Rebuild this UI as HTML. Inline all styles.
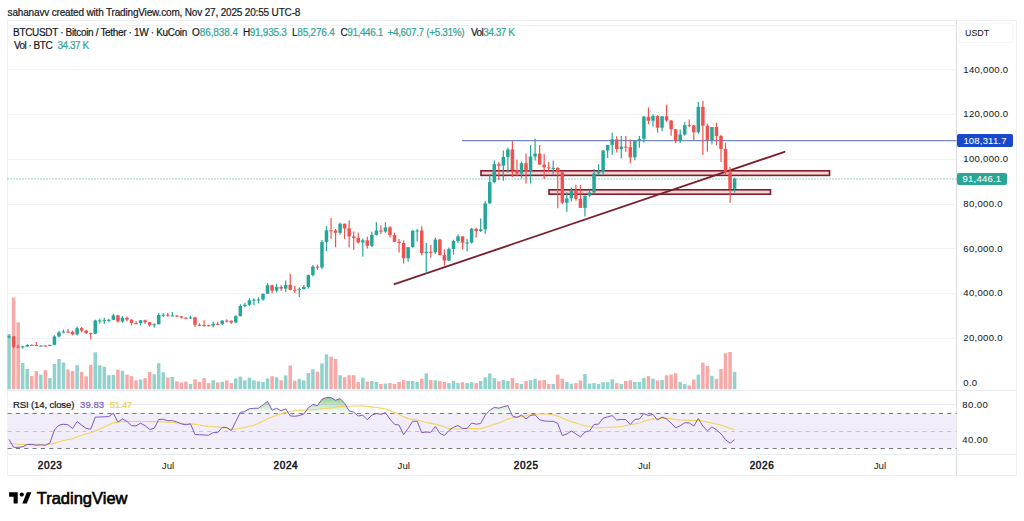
<!DOCTYPE html>
<html><head><meta charset="utf-8">
<style>
html,body{margin:0;padding:0;background:#fff;}
body{width:1024px;height:521px;position:relative;overflow:hidden;font-family:"Liberation Sans",sans-serif;color:#131722;}
.t{position:absolute;white-space:nowrap;line-height:1;-webkit-text-stroke:0.2px currentColor;}
.hdr{left:8px;top:8px;font-size:10.4px;color:#1e222d;}
.lg{font-size:10px;color:#131722;}
.gv{color:#2ea597;}
.ax{font-size:9.5px;color:#131722;-webkit-text-stroke:0.05px currentColor;}
.tm{font-size:9.6px;color:#131722;top:461px;}
.b{font-weight:bold;}
#frame{position:absolute;left:7px;top:20px;width:1008px;height:454px;border:1px solid #f0f1f4;box-sizing:content-box;}
svg{position:absolute;left:0;top:0;}
</style></head><body>
<div class="t" style="left:7.6px;top:8.2px;font-size:10px;letter-spacing:-0.17px;color:#131722;">sahanavv created with TradingView.com, Nov 27, 2025 20:55 UTC-8</div>
<div id="frame"></div>
<svg width="1024" height="521" viewBox="0 0 1024 521">
<line x1="956.5" y1="21" x2="956.5" y2="475" stroke="#dcdee3" stroke-width="1"/>
<line x1="7.5" y1="454.5" x2="1016" y2="454.5" stroke="#e9ecf2" stroke-width="1"/>
<line x1="7.5" y1="390.5" x2="1016" y2="390.5" stroke="#e9ecf2" stroke-width="1"/>
<line x1="7.5" y1="25.5" x2="956.5" y2="25.5" stroke="#f1f2f5" stroke-width="1"/>
<line x1="7.5" y1="69.5" x2="956.5" y2="69.5" stroke="#f1f2f5" stroke-width="1"/>
<line x1="7.5" y1="114.5" x2="956.5" y2="114.5" stroke="#f1f2f5" stroke-width="1"/>
<line x1="7.5" y1="159.5" x2="956.5" y2="159.5" stroke="#f1f2f5" stroke-width="1"/>
<line x1="7.5" y1="204.5" x2="956.5" y2="204.5" stroke="#f1f2f5" stroke-width="1"/>
<line x1="7.5" y1="248.5" x2="956.5" y2="248.5" stroke="#f1f2f5" stroke-width="1"/>
<line x1="7.5" y1="293.5" x2="956.5" y2="293.5" stroke="#f1f2f5" stroke-width="1"/>
<line x1="7.5" y1="338.5" x2="956.5" y2="338.5" stroke="#f1f2f5" stroke-width="1"/>
<rect x="7.34" y="334.00" width="3.5" height="55.20" fill="#92d2cc"/>
<rect x="11.87" y="297.50" width="3.5" height="91.70" fill="#f7a9a7"/>
<rect x="16.41" y="322.30" width="3.5" height="66.90" fill="#f7a9a7"/>
<rect x="20.94" y="363.00" width="3.5" height="26.20" fill="#92d2cc"/>
<rect x="25.48" y="369.00" width="3.5" height="20.20" fill="#92d2cc"/>
<rect x="30.01" y="376.10" width="3.5" height="13.10" fill="#f7a9a7"/>
<rect x="34.55" y="371.00" width="3.5" height="18.20" fill="#f7a9a7"/>
<rect x="39.08" y="374.60" width="3.5" height="14.60" fill="#92d2cc"/>
<rect x="43.62" y="370.20" width="3.5" height="19.00" fill="#f7a9a7"/>
<rect x="48.15" y="378.00" width="3.5" height="11.20" fill="#92d2cc"/>
<rect x="52.68" y="364.00" width="3.5" height="25.20" fill="#92d2cc"/>
<rect x="57.22" y="359.00" width="3.5" height="30.20" fill="#92d2cc"/>
<rect x="61.75" y="362.50" width="3.5" height="26.70" fill="#92d2cc"/>
<rect x="66.29" y="369.50" width="3.5" height="19.70" fill="#f7a9a7"/>
<rect x="70.82" y="371.00" width="3.5" height="18.20" fill="#f7a9a7"/>
<rect x="75.36" y="365.20" width="3.5" height="24.00" fill="#92d2cc"/>
<rect x="79.89" y="371.90" width="3.5" height="17.30" fill="#f7a9a7"/>
<rect x="84.43" y="376.30" width="3.5" height="12.90" fill="#f7a9a7"/>
<rect x="88.96" y="364.80" width="3.5" height="24.40" fill="#f7a9a7"/>
<rect x="93.50" y="352.30" width="3.5" height="36.90" fill="#92d2cc"/>
<rect x="98.03" y="365.20" width="3.5" height="24.00" fill="#92d2cc"/>
<rect x="102.56" y="366.70" width="3.5" height="22.50" fill="#92d2cc"/>
<rect x="107.10" y="375.20" width="3.5" height="14.00" fill="#92d2cc"/>
<rect x="111.63" y="374.90" width="3.5" height="14.30" fill="#92d2cc"/>
<rect x="116.17" y="369.50" width="3.5" height="19.70" fill="#f7a9a7"/>
<rect x="120.70" y="370.80" width="3.5" height="18.40" fill="#92d2cc"/>
<rect x="125.24" y="374.60" width="3.5" height="14.60" fill="#f7a9a7"/>
<rect x="129.77" y="376.10" width="3.5" height="13.10" fill="#f7a9a7"/>
<rect x="134.31" y="380.40" width="3.5" height="8.80" fill="#f7a9a7"/>
<rect x="138.84" y="379.60" width="3.5" height="9.60" fill="#92d2cc"/>
<rect x="143.37" y="378.10" width="3.5" height="11.10" fill="#f7a9a7"/>
<rect x="147.91" y="371.90" width="3.5" height="17.30" fill="#f7a9a7"/>
<rect x="152.44" y="374.20" width="3.5" height="15.00" fill="#92d2cc"/>
<rect x="156.98" y="363.20" width="3.5" height="26.00" fill="#92d2cc"/>
<rect x="161.51" y="372.20" width="3.5" height="17.00" fill="#92d2cc"/>
<rect x="166.05" y="377.50" width="3.5" height="11.70" fill="#f7a9a7"/>
<rect x="170.58" y="377.00" width="3.5" height="12.20" fill="#92d2cc"/>
<rect x="175.12" y="381.30" width="3.5" height="7.90" fill="#f7a9a7"/>
<rect x="179.65" y="382.40" width="3.5" height="6.80" fill="#f7a9a7"/>
<rect x="184.19" y="381.60" width="3.5" height="7.60" fill="#f7a9a7"/>
<rect x="188.72" y="384.00" width="3.5" height="5.20" fill="#92d2cc"/>
<rect x="193.25" y="379.30" width="3.5" height="9.90" fill="#f7a9a7"/>
<rect x="197.79" y="382.00" width="3.5" height="7.20" fill="#f7a9a7"/>
<rect x="202.32" y="378.10" width="3.5" height="11.10" fill="#f7a9a7"/>
<rect x="206.86" y="383.10" width="3.5" height="6.10" fill="#f7a9a7"/>
<rect x="211.39" y="380.20" width="3.5" height="9.00" fill="#92d2cc"/>
<rect x="215.93" y="382.40" width="3.5" height="6.80" fill="#f7a9a7"/>
<rect x="220.46" y="381.80" width="3.5" height="7.40" fill="#92d2cc"/>
<rect x="225.00" y="380.40" width="3.5" height="8.80" fill="#f7a9a7"/>
<rect x="229.53" y="383.10" width="3.5" height="6.10" fill="#f7a9a7"/>
<rect x="234.06" y="378.40" width="3.5" height="10.80" fill="#92d2cc"/>
<rect x="238.60" y="376.60" width="3.5" height="12.60" fill="#92d2cc"/>
<rect x="243.13" y="380.40" width="3.5" height="8.80" fill="#92d2cc"/>
<rect x="247.67" y="377.70" width="3.5" height="11.50" fill="#92d2cc"/>
<rect x="252.20" y="380.40" width="3.5" height="8.80" fill="#92d2cc"/>
<rect x="256.74" y="381.30" width="3.5" height="7.90" fill="#92d2cc"/>
<rect x="261.27" y="382.00" width="3.5" height="7.20" fill="#92d2cc"/>
<rect x="265.81" y="378.40" width="3.5" height="10.80" fill="#92d2cc"/>
<rect x="270.34" y="376.30" width="3.5" height="12.90" fill="#f7a9a7"/>
<rect x="274.88" y="377.30" width="3.5" height="11.90" fill="#92d2cc"/>
<rect x="279.41" y="380.20" width="3.5" height="9.00" fill="#f7a9a7"/>
<rect x="283.94" y="375.40" width="3.5" height="13.80" fill="#92d2cc"/>
<rect x="288.48" y="365.50" width="3.5" height="23.70" fill="#f7a9a7"/>
<rect x="293.01" y="380.80" width="3.5" height="8.40" fill="#f7a9a7"/>
<rect x="297.55" y="378.90" width="3.5" height="10.30" fill="#92d2cc"/>
<rect x="302.08" y="380.40" width="3.5" height="8.80" fill="#92d2cc"/>
<rect x="306.62" y="373.00" width="3.5" height="16.20" fill="#92d2cc"/>
<rect x="311.15" y="369.30" width="3.5" height="19.90" fill="#92d2cc"/>
<rect x="315.69" y="371.60" width="3.5" height="17.60" fill="#f7a9a7"/>
<rect x="320.22" y="363.40" width="3.5" height="25.80" fill="#92d2cc"/>
<rect x="324.75" y="354.30" width="3.5" height="34.90" fill="#92d2cc"/>
<rect x="329.29" y="356.60" width="3.5" height="32.60" fill="#f7a9a7"/>
<rect x="333.82" y="359.00" width="3.5" height="30.20" fill="#f7a9a7"/>
<rect x="338.36" y="375.20" width="3.5" height="14.00" fill="#92d2cc"/>
<rect x="342.89" y="377.30" width="3.5" height="11.90" fill="#f7a9a7"/>
<rect x="347.43" y="375.20" width="3.5" height="14.00" fill="#f7a9a7"/>
<rect x="351.96" y="375.20" width="3.5" height="14.00" fill="#f7a9a7"/>
<rect x="356.50" y="382.00" width="3.5" height="7.20" fill="#f7a9a7"/>
<rect x="361.03" y="377.70" width="3.5" height="11.50" fill="#92d2cc"/>
<rect x="365.56" y="381.60" width="3.5" height="7.60" fill="#f7a9a7"/>
<rect x="370.10" y="381.00" width="3.5" height="8.20" fill="#92d2cc"/>
<rect x="374.63" y="382.00" width="3.5" height="7.20" fill="#92d2cc"/>
<rect x="379.17" y="384.00" width="3.5" height="5.20" fill="#f7a9a7"/>
<rect x="383.70" y="383.60" width="3.5" height="5.60" fill="#92d2cc"/>
<rect x="388.24" y="383.10" width="3.5" height="6.10" fill="#f7a9a7"/>
<rect x="392.77" y="384.00" width="3.5" height="5.20" fill="#f7a9a7"/>
<rect x="397.31" y="382.00" width="3.5" height="7.20" fill="#f7a9a7"/>
<rect x="401.84" y="380.00" width="3.5" height="9.20" fill="#f7a9a7"/>
<rect x="406.38" y="381.00" width="3.5" height="8.20" fill="#92d2cc"/>
<rect x="410.91" y="381.00" width="3.5" height="8.20" fill="#92d2cc"/>
<rect x="415.44" y="382.00" width="3.5" height="7.20" fill="#92d2cc"/>
<rect x="419.98" y="378.70" width="3.5" height="10.50" fill="#f7a9a7"/>
<rect x="424.51" y="373.40" width="3.5" height="15.80" fill="#92d2cc"/>
<rect x="429.05" y="380.00" width="3.5" height="9.20" fill="#f7a9a7"/>
<rect x="433.58" y="380.40" width="3.5" height="8.80" fill="#92d2cc"/>
<rect x="438.12" y="381.00" width="3.5" height="8.20" fill="#f7a9a7"/>
<rect x="442.65" y="382.00" width="3.5" height="7.20" fill="#f7a9a7"/>
<rect x="447.19" y="383.10" width="3.5" height="6.10" fill="#92d2cc"/>
<rect x="451.72" y="381.00" width="3.5" height="8.20" fill="#92d2cc"/>
<rect x="456.25" y="383.10" width="3.5" height="6.10" fill="#92d2cc"/>
<rect x="460.79" y="382.20" width="3.5" height="7.00" fill="#f7a9a7"/>
<rect x="465.32" y="383.10" width="3.5" height="6.10" fill="#92d2cc"/>
<rect x="469.86" y="382.20" width="3.5" height="7.00" fill="#92d2cc"/>
<rect x="474.39" y="383.10" width="3.5" height="6.10" fill="#f7a9a7"/>
<rect x="478.93" y="381.00" width="3.5" height="8.20" fill="#92d2cc"/>
<rect x="483.46" y="377.30" width="3.5" height="11.90" fill="#92d2cc"/>
<rect x="488.00" y="373.40" width="3.5" height="15.80" fill="#92d2cc"/>
<rect x="492.53" y="378.10" width="3.5" height="11.10" fill="#92d2cc"/>
<rect x="497.07" y="381.30" width="3.5" height="7.90" fill="#f7a9a7"/>
<rect x="501.60" y="380.00" width="3.5" height="9.20" fill="#92d2cc"/>
<rect x="506.13" y="381.00" width="3.5" height="8.20" fill="#92d2cc"/>
<rect x="510.67" y="378.10" width="3.5" height="11.10" fill="#f7a9a7"/>
<rect x="515.20" y="383.10" width="3.5" height="6.10" fill="#f7a9a7"/>
<rect x="519.74" y="384.00" width="3.5" height="5.20" fill="#92d2cc"/>
<rect x="524.27" y="381.00" width="3.5" height="8.20" fill="#f7a9a7"/>
<rect x="528.81" y="380.00" width="3.5" height="9.20" fill="#92d2cc"/>
<rect x="533.34" y="378.70" width="3.5" height="10.50" fill="#92d2cc"/>
<rect x="537.88" y="380.40" width="3.5" height="8.80" fill="#f7a9a7"/>
<rect x="542.41" y="380.00" width="3.5" height="9.20" fill="#f7a9a7"/>
<rect x="546.95" y="384.00" width="3.5" height="5.20" fill="#f7a9a7"/>
<rect x="551.48" y="384.00" width="3.5" height="5.20" fill="#92d2cc"/>
<rect x="556.01" y="374.60" width="3.5" height="14.60" fill="#f7a9a7"/>
<rect x="560.55" y="378.70" width="3.5" height="10.50" fill="#f7a9a7"/>
<rect x="565.08" y="382.00" width="3.5" height="7.20" fill="#92d2cc"/>
<rect x="569.62" y="383.60" width="3.5" height="5.60" fill="#92d2cc"/>
<rect x="574.15" y="383.10" width="3.5" height="6.10" fill="#f7a9a7"/>
<rect x="578.69" y="380.40" width="3.5" height="8.80" fill="#f7a9a7"/>
<rect x="583.22" y="374.00" width="3.5" height="15.20" fill="#92d2cc"/>
<rect x="587.76" y="383.60" width="3.5" height="5.60" fill="#92d2cc"/>
<rect x="592.29" y="383.10" width="3.5" height="6.10" fill="#92d2cc"/>
<rect x="596.82" y="384.00" width="3.5" height="5.20" fill="#92d2cc"/>
<rect x="601.36" y="382.20" width="3.5" height="7.00" fill="#92d2cc"/>
<rect x="605.89" y="382.20" width="3.5" height="7.00" fill="#92d2cc"/>
<rect x="610.43" y="379.30" width="3.5" height="9.90" fill="#92d2cc"/>
<rect x="614.96" y="383.10" width="3.5" height="6.10" fill="#f7a9a7"/>
<rect x="619.50" y="384.00" width="3.5" height="5.20" fill="#92d2cc"/>
<rect x="624.03" y="381.00" width="3.5" height="8.20" fill="#f7a9a7"/>
<rect x="628.57" y="380.40" width="3.5" height="8.80" fill="#f7a9a7"/>
<rect x="633.10" y="382.00" width="3.5" height="7.20" fill="#92d2cc"/>
<rect x="637.63" y="382.00" width="3.5" height="7.20" fill="#92d2cc"/>
<rect x="642.17" y="378.10" width="3.5" height="11.10" fill="#92d2cc"/>
<rect x="646.70" y="376.10" width="3.5" height="13.10" fill="#f7a9a7"/>
<rect x="651.24" y="378.70" width="3.5" height="10.50" fill="#92d2cc"/>
<rect x="655.77" y="380.40" width="3.5" height="8.80" fill="#f7a9a7"/>
<rect x="660.31" y="380.10" width="3.5" height="9.10" fill="#92d2cc"/>
<rect x="664.84" y="375.20" width="3.5" height="14.00" fill="#f7a9a7"/>
<rect x="669.38" y="374.50" width="3.5" height="14.70" fill="#f7a9a7"/>
<rect x="673.91" y="373.20" width="3.5" height="16.00" fill="#f7a9a7"/>
<rect x="678.45" y="381.90" width="3.5" height="7.30" fill="#92d2cc"/>
<rect x="682.98" y="383.90" width="3.5" height="5.30" fill="#92d2cc"/>
<rect x="687.51" y="385.50" width="3.5" height="3.70" fill="#f7a9a7"/>
<rect x="692.05" y="379.50" width="3.5" height="9.70" fill="#f7a9a7"/>
<rect x="696.58" y="374.60" width="3.5" height="14.60" fill="#92d2cc"/>
<rect x="701.12" y="362.70" width="3.5" height="26.50" fill="#f7a9a7"/>
<rect x="705.65" y="366.00" width="3.5" height="23.20" fill="#f7a9a7"/>
<rect x="710.19" y="375.80" width="3.5" height="13.40" fill="#92d2cc"/>
<rect x="714.72" y="378.80" width="3.5" height="10.40" fill="#f7a9a7"/>
<rect x="719.26" y="369.00" width="3.5" height="20.20" fill="#f7a9a7"/>
<rect x="723.79" y="353.20" width="3.5" height="36.00" fill="#f7a9a7"/>
<rect x="728.33" y="352.00" width="3.5" height="37.20" fill="#f7a9a7"/>
<rect x="732.86" y="371.90" width="3.5" height="17.30" fill="#92d2cc"/>
<line x1="462" y1="140.65" x2="956.5" y2="140.65" stroke="#7489c0" stroke-width="1.1"/>
<line x1="7.5" y1="179" x2="956.5" y2="179" stroke="#26a69a" stroke-width="1" stroke-dasharray="1 2"/>
<rect x="481" y="170.8" width="348.5" height="4.6" fill="#f9d2d5" stroke="#7b1f2a" stroke-width="1.6"/>
<rect x="549" y="189.8" width="221.5" height="4.4" fill="#f9d2d5" stroke="#7b1f2a" stroke-width="1.6"/>
<line x1="394.5" y1="284.2" x2="784.5" y2="151.8" stroke="#7b1f2a" stroke-width="1.8" stroke-linecap="round"/>
<rect x="8.49" y="335.14" width="1.2" height="3.20" fill="#26a69a"/>
<rect x="7.34" y="336.39" width="3.5" height="1.00" fill="#26a69a"/>
<rect x="13.02" y="336.08" width="1.2" height="12.24" fill="#ef5350"/>
<rect x="11.87" y="336.39" width="3.5" height="10.27" fill="#ef5350"/>
<rect x="17.56" y="344.74" width="1.2" height="3.08" fill="#ef5350"/>
<rect x="16.41" y="346.66" width="3.5" height="1.00" fill="#ef5350"/>
<rect x="22.09" y="345.68" width="1.2" height="2.89" fill="#26a69a"/>
<rect x="20.94" y="346.44" width="3.5" height="1.00" fill="#26a69a"/>
<rect x="26.63" y="344.22" width="1.2" height="3.07" fill="#26a69a"/>
<rect x="25.48" y="344.94" width="3.5" height="1.50" fill="#26a69a"/>
<rect x="31.16" y="344.22" width="1.2" height="1.68" fill="#ef5350"/>
<rect x="30.01" y="344.94" width="3.5" height="1.00" fill="#ef5350"/>
<rect x="35.70" y="342.05" width="1.2" height="4.09" fill="#ef5350"/>
<rect x="34.55" y="344.98" width="3.5" height="1.00" fill="#ef5350"/>
<rect x="40.23" y="345.27" width="1.2" height="1.45" fill="#26a69a"/>
<rect x="39.08" y="345.52" width="3.5" height="1.00" fill="#26a69a"/>
<rect x="44.77" y="345.23" width="1.2" height="1.43" fill="#ef5350"/>
<rect x="43.62" y="345.52" width="3.5" height="1.00" fill="#ef5350"/>
<rect x="49.30" y="344.76" width="1.2" height="1.52" fill="#26a69a"/>
<rect x="48.15" y="344.89" width="3.5" height="1.12" fill="#26a69a"/>
<rect x="53.83" y="335.23" width="1.2" height="9.71" fill="#26a69a"/>
<rect x="52.68" y="336.48" width="3.5" height="8.41" fill="#26a69a"/>
<rect x="58.37" y="330.91" width="1.2" height="6.65" fill="#26a69a"/>
<rect x="57.22" y="332.41" width="3.5" height="4.07" fill="#26a69a"/>
<rect x="62.90" y="329.59" width="1.2" height="3.71" fill="#26a69a"/>
<rect x="61.75" y="331.56" width="3.5" height="1.00" fill="#26a69a"/>
<rect x="67.44" y="328.94" width="1.2" height="3.92" fill="#ef5350"/>
<rect x="66.29" y="331.56" width="3.5" height="1.00" fill="#ef5350"/>
<rect x="71.97" y="330.78" width="1.2" height="4.54" fill="#ef5350"/>
<rect x="70.82" y="331.87" width="3.5" height="2.55" fill="#ef5350"/>
<rect x="76.51" y="326.70" width="1.2" height="8.73" fill="#26a69a"/>
<rect x="75.36" y="328.16" width="3.5" height="6.27" fill="#26a69a"/>
<rect x="81.04" y="326.99" width="1.2" height="5.30" fill="#ef5350"/>
<rect x="79.89" y="328.16" width="3.5" height="2.46" fill="#ef5350"/>
<rect x="85.58" y="329.72" width="1.2" height="4.32" fill="#ef5350"/>
<rect x="84.43" y="330.62" width="3.5" height="2.42" fill="#ef5350"/>
<rect x="90.11" y="332.63" width="1.2" height="6.82" fill="#ef5350"/>
<rect x="88.96" y="333.04" width="3.5" height="1.00" fill="#ef5350"/>
<rect x="94.65" y="319.68" width="1.2" height="14.52" fill="#26a69a"/>
<rect x="93.50" y="320.57" width="3.5" height="13.11" fill="#26a69a"/>
<rect x="99.18" y="318.60" width="1.2" height="5.08" fill="#26a69a"/>
<rect x="98.03" y="320.48" width="3.5" height="1.00" fill="#26a69a"/>
<rect x="103.71" y="317.89" width="1.2" height="5.95" fill="#26a69a"/>
<rect x="102.56" y="320.17" width="3.5" height="1.00" fill="#26a69a"/>
<rect x="108.25" y="318.76" width="1.2" height="3.45" fill="#26a69a"/>
<rect x="107.10" y="319.83" width="3.5" height="1.00" fill="#26a69a"/>
<rect x="112.78" y="313.84" width="1.2" height="6.33" fill="#26a69a"/>
<rect x="111.63" y="315.40" width="3.5" height="4.43" fill="#26a69a"/>
<rect x="117.32" y="314.84" width="1.2" height="7.67" fill="#ef5350"/>
<rect x="116.17" y="315.40" width="3.5" height="6.06" fill="#ef5350"/>
<rect x="121.85" y="315.99" width="1.2" height="6.87" fill="#26a69a"/>
<rect x="120.70" y="317.80" width="3.5" height="3.67" fill="#26a69a"/>
<rect x="126.39" y="316.48" width="1.2" height="4.81" fill="#ef5350"/>
<rect x="125.24" y="317.80" width="3.5" height="1.79" fill="#ef5350"/>
<rect x="130.92" y="319.52" width="1.2" height="5.93" fill="#ef5350"/>
<rect x="129.77" y="319.59" width="3.5" height="3.38" fill="#ef5350"/>
<rect x="135.46" y="321.29" width="1.2" height="3.00" fill="#ef5350"/>
<rect x="134.31" y="322.97" width="3.5" height="1.00" fill="#ef5350"/>
<rect x="139.99" y="319.97" width="1.2" height="5.35" fill="#26a69a"/>
<rect x="138.84" y="320.37" width="3.5" height="2.73" fill="#26a69a"/>
<rect x="144.52" y="319.54" width="1.2" height="4.36" fill="#ef5350"/>
<rect x="143.37" y="320.37" width="3.5" height="1.88" fill="#ef5350"/>
<rect x="149.06" y="321.89" width="1.2" height="4.59" fill="#ef5350"/>
<rect x="147.91" y="322.25" width="3.5" height="2.95" fill="#ef5350"/>
<rect x="153.59" y="323.24" width="1.2" height="4.47" fill="#26a69a"/>
<rect x="152.44" y="324.26" width="3.5" height="1.00" fill="#26a69a"/>
<rect x="158.13" y="312.88" width="1.2" height="11.59" fill="#26a69a"/>
<rect x="156.98" y="314.96" width="3.5" height="9.31" fill="#26a69a"/>
<rect x="162.66" y="313.21" width="1.2" height="3.87" fill="#26a69a"/>
<rect x="161.51" y="314.69" width="3.5" height="1.00" fill="#26a69a"/>
<rect x="167.20" y="312.72" width="1.2" height="4.03" fill="#ef5350"/>
<rect x="166.05" y="314.69" width="3.5" height="1.01" fill="#ef5350"/>
<rect x="171.73" y="312.05" width="1.2" height="4.14" fill="#26a69a"/>
<rect x="170.58" y="315.56" width="3.5" height="1.00" fill="#26a69a"/>
<rect x="176.27" y="315.09" width="1.2" height="2.10" fill="#ef5350"/>
<rect x="175.12" y="315.56" width="3.5" height="1.00" fill="#ef5350"/>
<rect x="180.80" y="316.10" width="1.2" height="2.53" fill="#ef5350"/>
<rect x="179.65" y="316.39" width="3.5" height="1.23" fill="#ef5350"/>
<rect x="185.34" y="317.15" width="1.2" height="2.10" fill="#ef5350"/>
<rect x="184.19" y="317.62" width="3.5" height="1.00" fill="#ef5350"/>
<rect x="189.87" y="315.52" width="1.2" height="3.47" fill="#26a69a"/>
<rect x="188.72" y="317.42" width="3.5" height="1.00" fill="#26a69a"/>
<rect x="194.40" y="316.79" width="1.2" height="10.09" fill="#ef5350"/>
<rect x="193.25" y="317.42" width="3.5" height="7.41" fill="#ef5350"/>
<rect x="198.94" y="323.19" width="1.2" height="2.51" fill="#ef5350"/>
<rect x="197.79" y="324.82" width="3.5" height="1.00" fill="#ef5350"/>
<rect x="203.47" y="320.24" width="1.2" height="6.29" fill="#ef5350"/>
<rect x="202.32" y="325.00" width="3.5" height="1.00" fill="#ef5350"/>
<rect x="208.01" y="324.80" width="1.2" height="1.63" fill="#ef5350"/>
<rect x="206.86" y="325.16" width="3.5" height="1.00" fill="#ef5350"/>
<rect x="212.54" y="321.74" width="1.2" height="5.71" fill="#26a69a"/>
<rect x="211.39" y="323.84" width="3.5" height="1.57" fill="#26a69a"/>
<rect x="217.08" y="321.71" width="1.2" height="3.29" fill="#ef5350"/>
<rect x="215.93" y="323.84" width="3.5" height="1.00" fill="#ef5350"/>
<rect x="221.61" y="320.10" width="1.2" height="4.92" fill="#26a69a"/>
<rect x="220.46" y="320.62" width="3.5" height="3.24" fill="#26a69a"/>
<rect x="226.15" y="319.25" width="1.2" height="3.15" fill="#ef5350"/>
<rect x="225.00" y="320.62" width="3.5" height="1.00" fill="#ef5350"/>
<rect x="230.68" y="320.55" width="1.2" height="3.29" fill="#ef5350"/>
<rect x="229.53" y="320.71" width="3.5" height="1.75" fill="#ef5350"/>
<rect x="235.21" y="315.22" width="1.2" height="7.79" fill="#26a69a"/>
<rect x="234.06" y="316.12" width="3.5" height="6.33" fill="#26a69a"/>
<rect x="239.75" y="304.26" width="1.2" height="12.04" fill="#26a69a"/>
<rect x="238.60" y="305.98" width="3.5" height="10.14" fill="#26a69a"/>
<rect x="244.28" y="302.69" width="1.2" height="4.65" fill="#26a69a"/>
<rect x="243.13" y="304.82" width="3.5" height="1.16" fill="#26a69a"/>
<rect x="248.82" y="298.24" width="1.2" height="7.67" fill="#26a69a"/>
<rect x="247.67" y="300.28" width="3.5" height="4.54" fill="#26a69a"/>
<rect x="253.35" y="298.22" width="1.2" height="7.12" fill="#26a69a"/>
<rect x="252.20" y="299.61" width="3.5" height="1.00" fill="#26a69a"/>
<rect x="257.89" y="297.28" width="1.2" height="6.20" fill="#26a69a"/>
<rect x="256.74" y="299.41" width="3.5" height="1.00" fill="#26a69a"/>
<rect x="262.42" y="293.70" width="1.2" height="7.07" fill="#26a69a"/>
<rect x="261.27" y="293.74" width="3.5" height="5.66" fill="#26a69a"/>
<rect x="266.96" y="283.18" width="1.2" height="10.56" fill="#26a69a"/>
<rect x="265.81" y="285.24" width="3.5" height="8.50" fill="#26a69a"/>
<rect x="271.49" y="284.75" width="1.2" height="8.46" fill="#ef5350"/>
<rect x="270.34" y="285.24" width="3.5" height="5.41" fill="#ef5350"/>
<rect x="276.02" y="283.86" width="1.2" height="8.61" fill="#26a69a"/>
<rect x="274.88" y="286.94" width="3.5" height="3.71" fill="#26a69a"/>
<rect x="280.56" y="285.20" width="1.2" height="5.59" fill="#ef5350"/>
<rect x="279.41" y="286.94" width="3.5" height="1.66" fill="#ef5350"/>
<rect x="285.09" y="280.50" width="1.2" height="11.52" fill="#26a69a"/>
<rect x="283.94" y="284.86" width="3.5" height="3.74" fill="#26a69a"/>
<rect x="289.63" y="273.79" width="1.2" height="16.56" fill="#ef5350"/>
<rect x="288.48" y="284.86" width="3.5" height="4.97" fill="#ef5350"/>
<rect x="294.16" y="285.69" width="1.2" height="7.38" fill="#ef5350"/>
<rect x="293.01" y="289.83" width="3.5" height="1.00" fill="#ef5350"/>
<rect x="298.70" y="287.35" width="1.2" height="9.60" fill="#26a69a"/>
<rect x="297.55" y="289.16" width="3.5" height="1.01" fill="#26a69a"/>
<rect x="303.23" y="285.02" width="1.2" height="4.47" fill="#26a69a"/>
<rect x="302.08" y="286.99" width="3.5" height="2.17" fill="#26a69a"/>
<rect x="307.77" y="274.48" width="1.2" height="14.16" fill="#26a69a"/>
<rect x="306.62" y="275.13" width="3.5" height="11.86" fill="#26a69a"/>
<rect x="312.30" y="265.02" width="1.2" height="11.46" fill="#26a69a"/>
<rect x="311.15" y="266.56" width="3.5" height="8.57" fill="#26a69a"/>
<rect x="316.84" y="264.66" width="1.2" height="5.50" fill="#ef5350"/>
<rect x="315.69" y="266.56" width="3.5" height="1.00" fill="#ef5350"/>
<rect x="321.37" y="240.00" width="1.2" height="29.31" fill="#26a69a"/>
<rect x="320.22" y="241.99" width="3.5" height="25.46" fill="#26a69a"/>
<rect x="325.90" y="226.19" width="1.2" height="24.99" fill="#26a69a"/>
<rect x="324.75" y="230.24" width="3.5" height="11.75" fill="#26a69a"/>
<rect x="330.44" y="218.12" width="1.2" height="20.70" fill="#ef5350"/>
<rect x="329.29" y="230.24" width="3.5" height="1.00" fill="#ef5350"/>
<rect x="334.97" y="228.99" width="1.2" height="18.26" fill="#ef5350"/>
<rect x="333.82" y="230.38" width="3.5" height="2.44" fill="#ef5350"/>
<rect x="339.51" y="222.61" width="1.2" height="12.02" fill="#26a69a"/>
<rect x="338.36" y="223.71" width="3.5" height="9.11" fill="#26a69a"/>
<rect x="344.04" y="223.55" width="1.2" height="15.33" fill="#ef5350"/>
<rect x="342.89" y="223.71" width="3.5" height="4.65" fill="#ef5350"/>
<rect x="348.58" y="220.31" width="1.2" height="27.07" fill="#ef5350"/>
<rect x="347.43" y="228.37" width="3.5" height="8.05" fill="#ef5350"/>
<rect x="353.11" y="231.50" width="1.2" height="18.35" fill="#ef5350"/>
<rect x="351.96" y="236.42" width="3.5" height="1.57" fill="#ef5350"/>
<rect x="357.65" y="232.77" width="1.2" height="10.81" fill="#ef5350"/>
<rect x="356.50" y="237.99" width="3.5" height="4.48" fill="#ef5350"/>
<rect x="362.18" y="238.37" width="1.2" height="18.30" fill="#26a69a"/>
<rect x="361.03" y="240.34" width="3.5" height="2.13" fill="#26a69a"/>
<rect x="366.71" y="236.64" width="1.2" height="11.86" fill="#ef5350"/>
<rect x="365.56" y="240.34" width="3.5" height="5.48" fill="#ef5350"/>
<rect x="371.25" y="231.72" width="1.2" height="15.55" fill="#26a69a"/>
<rect x="370.10" y="234.92" width="3.5" height="10.90" fill="#26a69a"/>
<rect x="375.78" y="222.14" width="1.2" height="13.38" fill="#26a69a"/>
<rect x="374.63" y="230.60" width="3.5" height="4.32" fill="#26a69a"/>
<rect x="380.32" y="225.23" width="1.2" height="8.73" fill="#ef5350"/>
<rect x="379.17" y="230.60" width="3.5" height="1.01" fill="#ef5350"/>
<rect x="384.85" y="222.21" width="1.2" height="10.63" fill="#26a69a"/>
<rect x="383.70" y="227.36" width="3.5" height="4.25" fill="#26a69a"/>
<rect x="389.39" y="226.13" width="1.2" height="11.46" fill="#ef5350"/>
<rect x="388.24" y="227.36" width="3.5" height="7.67" fill="#ef5350"/>
<rect x="393.92" y="232.62" width="1.2" height="9.17" fill="#ef5350"/>
<rect x="392.77" y="235.03" width="3.5" height="6.76" fill="#ef5350"/>
<rect x="398.46" y="238.88" width="1.2" height="13.65" fill="#ef5350"/>
<rect x="397.31" y="241.79" width="3.5" height="1.16" fill="#ef5350"/>
<rect x="402.99" y="240.45" width="1.2" height="23.05" fill="#ef5350"/>
<rect x="401.84" y="242.95" width="3.5" height="15.28" fill="#ef5350"/>
<rect x="407.53" y="247.16" width="1.2" height="14.54" fill="#26a69a"/>
<rect x="406.38" y="247.16" width="3.5" height="11.08" fill="#26a69a"/>
<rect x="412.06" y="230.22" width="1.2" height="17.32" fill="#26a69a"/>
<rect x="410.91" y="230.69" width="3.5" height="16.47" fill="#26a69a"/>
<rect x="416.59" y="229.08" width="1.2" height="12.26" fill="#26a69a"/>
<rect x="415.44" y="230.49" width="3.5" height="1.00" fill="#26a69a"/>
<rect x="421.13" y="226.40" width="1.2" height="28.93" fill="#ef5350"/>
<rect x="419.98" y="230.49" width="3.5" height="22.67" fill="#ef5350"/>
<rect x="425.66" y="242.82" width="1.2" height="30.74" fill="#26a69a"/>
<rect x="424.51" y="251.86" width="3.5" height="1.30" fill="#26a69a"/>
<rect x="430.20" y="244.81" width="1.2" height="12.91" fill="#ef5350"/>
<rect x="429.05" y="251.86" width="3.5" height="1.00" fill="#ef5350"/>
<rect x="434.73" y="237.76" width="1.2" height="16.11" fill="#26a69a"/>
<rect x="433.58" y="239.51" width="3.5" height="12.80" fill="#26a69a"/>
<rect x="439.27" y="238.88" width="1.2" height="16.33" fill="#ef5350"/>
<rect x="438.12" y="239.51" width="3.5" height="15.48" fill="#ef5350"/>
<rect x="443.80" y="249.40" width="1.2" height="16.22" fill="#ef5350"/>
<rect x="442.65" y="254.99" width="3.5" height="5.48" fill="#ef5350"/>
<rect x="448.34" y="247.45" width="1.2" height="13.58" fill="#26a69a"/>
<rect x="447.19" y="248.97" width="3.5" height="11.50" fill="#26a69a"/>
<rect x="452.87" y="239.71" width="1.2" height="14.83" fill="#26a69a"/>
<rect x="451.72" y="240.94" width="3.5" height="8.03" fill="#26a69a"/>
<rect x="457.40" y="234.41" width="1.2" height="8.50" fill="#26a69a"/>
<rect x="456.25" y="236.35" width="3.5" height="4.59" fill="#26a69a"/>
<rect x="461.94" y="236.35" width="1.2" height="13.04" fill="#ef5350"/>
<rect x="460.79" y="236.35" width="3.5" height="6.27" fill="#ef5350"/>
<rect x="466.47" y="238.95" width="1.2" height="12.46" fill="#26a69a"/>
<rect x="465.32" y="242.57" width="3.5" height="1.00" fill="#26a69a"/>
<rect x="471.01" y="227.92" width="1.2" height="15.60" fill="#26a69a"/>
<rect x="469.86" y="228.86" width="3.5" height="13.72" fill="#26a69a"/>
<rect x="475.54" y="227.69" width="1.2" height="9.93" fill="#ef5350"/>
<rect x="474.39" y="228.86" width="3.5" height="2.26" fill="#ef5350"/>
<rect x="480.08" y="218.48" width="1.2" height="13.47" fill="#26a69a"/>
<rect x="478.93" y="229.35" width="3.5" height="1.77" fill="#26a69a"/>
<rect x="484.61" y="200.84" width="1.2" height="32.89" fill="#26a69a"/>
<rect x="483.46" y="203.37" width="3.5" height="25.98" fill="#26a69a"/>
<rect x="489.15" y="174.04" width="1.2" height="29.71" fill="#26a69a"/>
<rect x="488.00" y="182.16" width="3.5" height="21.21" fill="#26a69a"/>
<rect x="493.68" y="160.39" width="1.2" height="22.82" fill="#26a69a"/>
<rect x="492.53" y="164.15" width="3.5" height="18.01" fill="#26a69a"/>
<rect x="498.22" y="162.13" width="1.2" height="17.92" fill="#ef5350"/>
<rect x="497.07" y="164.15" width="3.5" height="1.57" fill="#ef5350"/>
<rect x="502.75" y="150.50" width="1.2" height="30.21" fill="#26a69a"/>
<rect x="501.60" y="156.94" width="3.5" height="8.77" fill="#26a69a"/>
<rect x="507.28" y="147.70" width="1.2" height="24.84" fill="#26a69a"/>
<rect x="506.13" y="149.47" width="3.5" height="7.47" fill="#26a69a"/>
<rect x="511.82" y="140.77" width="1.2" height="36.19" fill="#ef5350"/>
<rect x="510.67" y="149.47" width="3.5" height="20.72" fill="#ef5350"/>
<rect x="516.35" y="159.67" width="1.2" height="16.56" fill="#ef5350"/>
<rect x="515.20" y="170.19" width="3.5" height="3.31" fill="#ef5350"/>
<rect x="520.89" y="161.69" width="1.2" height="16.78" fill="#26a69a"/>
<rect x="519.74" y="163.19" width="3.5" height="10.31" fill="#26a69a"/>
<rect x="525.42" y="153.41" width="1.2" height="30.09" fill="#ef5350"/>
<rect x="524.27" y="163.19" width="3.5" height="8.57" fill="#ef5350"/>
<rect x="529.96" y="145.13" width="1.2" height="38.37" fill="#26a69a"/>
<rect x="528.81" y="156.54" width="3.5" height="15.22" fill="#26a69a"/>
<rect x="534.49" y="138.53" width="1.2" height="22.04" fill="#26a69a"/>
<rect x="533.34" y="153.63" width="3.5" height="2.91" fill="#26a69a"/>
<rect x="539.03" y="145.02" width="1.2" height="19.58" fill="#ef5350"/>
<rect x="537.88" y="153.63" width="3.5" height="10.96" fill="#ef5350"/>
<rect x="543.56" y="153.86" width="1.2" height="25.22" fill="#ef5350"/>
<rect x="542.41" y="164.60" width="3.5" height="2.77" fill="#ef5350"/>
<rect x="548.10" y="162.13" width="1.2" height="10.52" fill="#ef5350"/>
<rect x="546.95" y="167.37" width="3.5" height="1.00" fill="#ef5350"/>
<rect x="552.63" y="160.57" width="1.2" height="13.65" fill="#26a69a"/>
<rect x="551.48" y="167.84" width="3.5" height="1.00" fill="#26a69a"/>
<rect x="557.16" y="167.28" width="1.2" height="40.95" fill="#ef5350"/>
<rect x="556.01" y="167.84" width="3.5" height="4.43" fill="#ef5350"/>
<rect x="561.70" y="170.64" width="1.2" height="33.56" fill="#ef5350"/>
<rect x="560.55" y="172.27" width="3.5" height="30.36" fill="#ef5350"/>
<rect x="566.23" y="192.34" width="1.2" height="19.47" fill="#26a69a"/>
<rect x="565.08" y="198.38" width="3.5" height="4.25" fill="#26a69a"/>
<rect x="570.77" y="187.53" width="1.2" height="13.98" fill="#26a69a"/>
<rect x="569.62" y="190.60" width="3.5" height="7.79" fill="#26a69a"/>
<rect x="575.30" y="184.62" width="1.2" height="16.00" fill="#ef5350"/>
<rect x="574.15" y="190.60" width="3.5" height="8.23" fill="#ef5350"/>
<rect x="579.84" y="185.18" width="1.2" height="22.69" fill="#ef5350"/>
<rect x="578.69" y="198.83" width="3.5" height="9.04" fill="#ef5350"/>
<rect x="584.37" y="195.47" width="1.2" height="21.03" fill="#26a69a"/>
<rect x="583.22" y="195.70" width="3.5" height="12.17" fill="#26a69a"/>
<rect x="588.91" y="189.77" width="1.2" height="7.50" fill="#26a69a"/>
<rect x="587.76" y="192.56" width="3.5" height="3.13" fill="#26a69a"/>
<rect x="593.44" y="168.96" width="1.2" height="23.72" fill="#26a69a"/>
<rect x="592.29" y="173.43" width="3.5" height="19.13" fill="#26a69a"/>
<rect x="597.97" y="164.15" width="1.2" height="11.19" fill="#26a69a"/>
<rect x="596.82" y="172.20" width="3.5" height="1.23" fill="#26a69a"/>
<rect x="602.51" y="150.16" width="1.2" height="24.05" fill="#26a69a"/>
<rect x="601.36" y="150.50" width="3.5" height="21.70" fill="#26a69a"/>
<rect x="607.04" y="144.91" width="1.2" height="12.98" fill="#26a69a"/>
<rect x="605.89" y="144.91" width="3.5" height="5.59" fill="#26a69a"/>
<rect x="611.58" y="132.64" width="1.2" height="22.22" fill="#26a69a"/>
<rect x="610.43" y="139.31" width="3.5" height="5.59" fill="#26a69a"/>
<rect x="616.11" y="136.18" width="1.2" height="16.33" fill="#ef5350"/>
<rect x="614.96" y="139.31" width="3.5" height="9.73" fill="#ef5350"/>
<rect x="620.65" y="135.96" width="1.2" height="22.60" fill="#26a69a"/>
<rect x="619.50" y="146.70" width="3.5" height="2.35" fill="#26a69a"/>
<rect x="625.18" y="135.96" width="1.2" height="15.93" fill="#ef5350"/>
<rect x="624.03" y="146.70" width="3.5" height="1.00" fill="#ef5350"/>
<rect x="629.72" y="139.42" width="1.2" height="24.05" fill="#ef5350"/>
<rect x="628.57" y="147.14" width="3.5" height="10.18" fill="#ef5350"/>
<rect x="634.25" y="140.43" width="1.2" height="19.91" fill="#26a69a"/>
<rect x="633.10" y="140.66" width="3.5" height="16.67" fill="#26a69a"/>
<rect x="638.78" y="135.96" width="1.2" height="11.86" fill="#26a69a"/>
<rect x="637.63" y="138.87" width="3.5" height="1.79" fill="#26a69a"/>
<rect x="643.32" y="115.82" width="1.2" height="26.85" fill="#26a69a"/>
<rect x="642.17" y="116.71" width="3.5" height="22.15" fill="#26a69a"/>
<rect x="647.85" y="107.54" width="1.2" height="16.78" fill="#ef5350"/>
<rect x="646.70" y="116.71" width="3.5" height="4.03" fill="#ef5350"/>
<rect x="652.39" y="114.14" width="1.2" height="12.42" fill="#26a69a"/>
<rect x="651.24" y="116.04" width="3.5" height="4.70" fill="#26a69a"/>
<rect x="656.92" y="115.15" width="1.2" height="17.45" fill="#ef5350"/>
<rect x="655.77" y="116.04" width="3.5" height="11.63" fill="#ef5350"/>
<rect x="661.46" y="116.27" width="1.2" height="14.99" fill="#26a69a"/>
<rect x="660.31" y="116.27" width="3.5" height="11.41" fill="#26a69a"/>
<rect x="665.99" y="104.63" width="1.2" height="17.23" fill="#ef5350"/>
<rect x="664.84" y="116.27" width="3.5" height="4.25" fill="#ef5350"/>
<rect x="670.53" y="120.07" width="1.2" height="15.66" fill="#ef5350"/>
<rect x="669.38" y="120.52" width="3.5" height="8.73" fill="#ef5350"/>
<rect x="675.06" y="129.24" width="1.2" height="13.87" fill="#ef5350"/>
<rect x="673.91" y="129.24" width="3.5" height="11.75" fill="#ef5350"/>
<rect x="679.60" y="129.47" width="1.2" height="13.72" fill="#26a69a"/>
<rect x="678.45" y="134.50" width="3.5" height="6.49" fill="#26a69a"/>
<rect x="684.13" y="122.08" width="1.2" height="13.65" fill="#26a69a"/>
<rect x="682.98" y="125.22" width="3.5" height="9.29" fill="#26a69a"/>
<rect x="688.66" y="119.40" width="1.2" height="7.83" fill="#ef5350"/>
<rect x="687.51" y="125.22" width="3.5" height="1.00" fill="#ef5350"/>
<rect x="693.20" y="124.99" width="1.2" height="15.10" fill="#ef5350"/>
<rect x="692.05" y="125.33" width="3.5" height="6.94" fill="#ef5350"/>
<rect x="697.73" y="101.95" width="1.2" height="31.77" fill="#26a69a"/>
<rect x="696.58" y="106.87" width="3.5" height="25.40" fill="#26a69a"/>
<rect x="702.27" y="100.83" width="1.2" height="54.15" fill="#ef5350"/>
<rect x="701.12" y="106.87" width="3.5" height="18.80" fill="#ef5350"/>
<rect x="706.80" y="123.65" width="1.2" height="27.97" fill="#ef5350"/>
<rect x="705.65" y="125.66" width="3.5" height="14.43" fill="#ef5350"/>
<rect x="711.34" y="127.01" width="1.2" height="17.45" fill="#26a69a"/>
<rect x="710.19" y="127.01" width="3.5" height="13.09" fill="#26a69a"/>
<rect x="715.87" y="122.75" width="1.2" height="22.60" fill="#ef5350"/>
<rect x="714.72" y="127.01" width="3.5" height="8.95" fill="#ef5350"/>
<rect x="720.41" y="134.84" width="1.2" height="27.07" fill="#ef5350"/>
<rect x="719.26" y="135.96" width="3.5" height="12.98" fill="#ef5350"/>
<rect x="724.94" y="142.67" width="1.2" height="32.44" fill="#ef5350"/>
<rect x="723.79" y="148.93" width="3.5" height="23.49" fill="#ef5350"/>
<rect x="729.48" y="167.06" width="1.2" height="35.80" fill="#ef5350"/>
<rect x="728.33" y="172.43" width="3.5" height="16.47" fill="#ef5350"/>
<rect x="734.01" y="177.50" width="1.2" height="14.90" fill="#26a69a"/>
<rect x="732.86" y="178.59" width="3.5" height="10.31" fill="#26a69a"/>
<rect x="7.5" y="413.40" width="949.0" height="34.90" fill="#f2eef9"/>
<line x1="7.5" y1="404.5" x2="956.5" y2="404.5" stroke="#eceaf3" stroke-width="1"/>
<line x1="7.5" y1="439.5" x2="956.5" y2="439.5" stroke="#eceaf3" stroke-width="1"/>
<line x1="7.5" y1="413.5" x2="956.5" y2="413.5" stroke="#787b86" stroke-width="1" stroke-dasharray="4.16 4.155" stroke-dashoffset="8.235"/>
<line x1="7.5" y1="431.5" x2="956.5" y2="431.5" stroke="#c3c5cc" stroke-width="1" stroke-dasharray="4.16 4.155" stroke-dashoffset="8.235"/>
<line x1="7.5" y1="448.5" x2="956.5" y2="448.5" stroke="#787b86" stroke-width="1" stroke-dasharray="4.16 4.155" stroke-dashoffset="8.235"/>
<defs><clipPath id="ob"><rect x="0" y="380" width="1024" height="33.40"/></clipPath><linearGradient id="obg" gradientUnits="userSpaceOnUse" x1="0" y1="387.23" x2="0" y2="413.40"><stop offset="0" stop-color="#4caf50" stop-opacity="1"/><stop offset="1" stop-color="#4caf50" stop-opacity="0"/></linearGradient></defs>
<polygon points="9.09,413.40 9.09,439.46 13.62,447.24 18.16,447.31 22.69,446.81 27.23,444.51 31.76,444.55 36.30,445.21 40.83,444.81 45.37,445.29 49.90,443.07 54.43,429.87 58.97,425.19 63.50,424.28 68.04,424.76 72.57,428.56 77.11,421.60 81.64,425.12 86.18,428.36 90.71,429.22 95.25,417.10 99.78,417.03 104.31,416.80 108.85,416.53 113.38,413.19 117.92,422.01 122.45,419.02 126.99,421.41 131.52,425.69 136.06,425.86 140.59,423.15 145.12,425.69 149.66,429.44 154.19,428.36 158.73,419.50 163.26,419.29 167.80,420.73 172.33,420.61 176.87,421.91 181.40,423.87 185.94,424.82 190.47,423.83 195.00,434.53 199.54,434.75 204.07,434.96 208.61,435.30 213.14,432.62 217.68,432.65 222.21,427.30 226.75,427.46 231.28,430.67 235.81,421.52 240.35,412.38 244.88,411.58 249.42,408.70 253.95,408.31 258.49,408.18 263.02,404.99 267.56,401.48 272.09,410.19 276.62,408.33 281.16,410.81 285.69,408.84 290.23,415.84 294.76,416.29 299.30,415.59 303.83,414.07 308.37,407.66 312.90,404.46 317.44,405.67 321.97,399.27 326.50,397.50 331.04,397.64 335.57,400.26 340.11,398.69 344.64,403.41 349.18,410.80 353.71,412.16 358.25,415.99 362.78,415.11 367.31,419.75 371.85,415.09 376.38,413.48 380.92,414.35 385.45,412.70 389.99,419.24 394.52,424.28 399.06,425.12 403.59,434.52 408.13,428.40 412.66,421.33 417.19,421.25 421.73,432.68 426.26,432.09 430.80,432.29 435.33,426.46 439.87,433.39 444.40,435.53 448.94,430.44 453.47,427.26 458.00,425.53 462.54,428.46 467.07,428.44 471.61,423.01 476.14,424.18 480.68,423.49 485.21,415.15 489.75,410.45 494.28,407.35 498.82,408.18 503.35,406.73 507.88,405.56 512.42,415.99 516.95,417.48 521.49,415.10 526.02,419.00 530.56,415.46 535.09,414.82 539.63,419.80 544.16,421.02 548.70,421.29 553.23,421.25 557.76,423.50 562.30,435.61 566.83,433.94 571.37,430.95 575.90,433.90 580.44,436.91 584.97,432.09 589.51,430.91 594.04,424.49 598.57,424.11 603.11,418.18 607.64,416.86 612.18,415.55 616.71,420.04 621.25,419.40 625.78,419.62 630.32,424.48 634.85,419.45 639.38,418.95 643.92,413.56 648.45,415.52 652.99,414.42 657.52,420.06 662.06,417.10 666.59,419.10 671.13,423.08 675.66,427.92 680.20,425.76 684.73,422.85 689.26,422.90 693.80,426.07 698.33,418.49 702.87,426.02 707.40,430.87 711.94,426.99 716.47,429.91 721.01,433.82 725.54,439.75 730.08,443.20 734.61,439.69 734.61,413.40" fill="url(#obg)" clip-path="url(#ob)"/>
<polyline points="9.09,443.54 13.62,443.79 18.16,444.23 22.69,444.38 27.23,444.25 31.76,444.11 36.30,444.34 40.83,444.32 45.37,444.28 49.90,444.17 54.43,443.10 58.97,441.72 63.50,440.57 68.04,439.45 72.57,438.68 77.11,436.85 81.64,435.26 86.18,433.94 90.71,432.85 95.25,430.89 99.78,428.88 104.31,426.88 108.85,424.82 113.38,422.69 117.92,422.12 122.45,421.68 126.99,421.48 131.52,421.55 136.06,421.35 140.59,421.46 145.12,421.50 149.66,421.58 154.19,421.52 158.73,421.69 163.26,421.85 167.80,422.13 172.33,422.43 176.87,423.05 181.40,423.18 185.94,423.59 190.47,423.77 195.00,424.40 199.54,425.03 204.07,425.88 208.61,426.56 213.14,426.79 217.68,427.10 222.21,427.65 226.75,428.24 231.28,428.95 235.81,429.01 240.35,428.33 244.88,427.45 249.42,426.30 253.95,425.20 258.49,423.31 263.02,421.19 267.56,418.80 272.09,417.00 276.62,415.27 281.16,413.71 285.69,412.39 290.23,411.56 294.76,410.53 299.30,410.11 303.83,410.23 308.37,409.95 312.90,409.65 317.44,409.46 321.97,408.82 326.50,408.29 331.04,408.01 335.57,407.30 340.11,406.61 344.64,406.09 349.18,406.23 353.71,405.96 358.25,405.94 362.78,405.91 367.31,406.31 371.85,406.84 376.38,407.49 380.92,408.11 385.45,409.07 389.99,410.62 394.52,412.52 399.06,414.30 403.59,416.86 408.13,418.64 412.66,419.39 417.19,420.04 421.73,421.24 426.26,422.45 430.80,423.34 435.33,424.16 439.87,425.58 444.40,427.09 448.94,428.36 453.47,428.93 458.00,429.02 462.54,429.26 467.07,428.82 471.61,428.44 476.14,428.64 480.68,428.80 485.21,427.55 489.75,426.00 494.28,424.22 498.82,422.92 503.35,421.01 507.88,418.87 512.42,417.84 516.95,417.14 521.49,416.40 526.02,415.72 530.56,414.79 535.09,414.21 539.63,413.90 544.16,413.72 548.70,414.16 553.23,414.93 557.76,416.08 562.30,418.04 566.83,419.99 571.37,421.80 575.90,423.08 580.44,424.47 584.97,425.68 589.51,426.53 594.04,427.18 598.57,427.84 603.11,427.72 607.64,427.43 612.18,427.02 616.71,426.93 621.25,426.64 625.78,425.50 630.32,424.82 634.85,424.00 639.38,422.93 643.92,421.26 648.45,420.08 652.99,418.90 657.52,418.59 662.06,418.08 666.59,418.15 671.13,418.60 675.66,419.48 680.20,419.89 684.73,420.13 689.26,420.37 693.80,420.48 698.33,420.41 702.87,420.92 707.40,422.15 711.94,422.97 716.47,424.08 721.01,425.06 725.54,426.68 730.08,428.40 734.61,429.59" fill="none" stroke="#f3d35a" stroke-width="1.1"/>
<polyline points="9.09,439.46 13.62,447.24 18.16,447.31 22.69,446.81 27.23,444.51 31.76,444.55 36.30,445.21 40.83,444.81 45.37,445.29 49.90,443.07 54.43,429.87 58.97,425.19 63.50,424.28 68.04,424.76 72.57,428.56 77.11,421.60 81.64,425.12 86.18,428.36 90.71,429.22 95.25,417.10 99.78,417.03 104.31,416.80 108.85,416.53 113.38,413.19 117.92,422.01 122.45,419.02 126.99,421.41 131.52,425.69 136.06,425.86 140.59,423.15 145.12,425.69 149.66,429.44 154.19,428.36 158.73,419.50 163.26,419.29 167.80,420.73 172.33,420.61 176.87,421.91 181.40,423.87 185.94,424.82 190.47,423.83 195.00,434.53 199.54,434.75 204.07,434.96 208.61,435.30 213.14,432.62 217.68,432.65 222.21,427.30 226.75,427.46 231.28,430.67 235.81,421.52 240.35,412.38 244.88,411.58 249.42,408.70 253.95,408.31 258.49,408.18 263.02,404.99 267.56,401.48 272.09,410.19 276.62,408.33 281.16,410.81 285.69,408.84 290.23,415.84 294.76,416.29 299.30,415.59 303.83,414.07 308.37,407.66 312.90,404.46 317.44,405.67 321.97,399.27 326.50,397.50 331.04,397.64 335.57,400.26 340.11,398.69 344.64,403.41 349.18,410.80 353.71,412.16 358.25,415.99 362.78,415.11 367.31,419.75 371.85,415.09 376.38,413.48 380.92,414.35 385.45,412.70 389.99,419.24 394.52,424.28 399.06,425.12 403.59,434.52 408.13,428.40 412.66,421.33 417.19,421.25 421.73,432.68 426.26,432.09 430.80,432.29 435.33,426.46 439.87,433.39 444.40,435.53 448.94,430.44 453.47,427.26 458.00,425.53 462.54,428.46 467.07,428.44 471.61,423.01 476.14,424.18 480.68,423.49 485.21,415.15 489.75,410.45 494.28,407.35 498.82,408.18 503.35,406.73 507.88,405.56 512.42,415.99 516.95,417.48 521.49,415.10 526.02,419.00 530.56,415.46 535.09,414.82 539.63,419.80 544.16,421.02 548.70,421.29 553.23,421.25 557.76,423.50 562.30,435.61 566.83,433.94 571.37,430.95 575.90,433.90 580.44,436.91 584.97,432.09 589.51,430.91 594.04,424.49 598.57,424.11 603.11,418.18 607.64,416.86 612.18,415.55 616.71,420.04 621.25,419.40 625.78,419.62 630.32,424.48 634.85,419.45 639.38,418.95 643.92,413.56 648.45,415.52 652.99,414.42 657.52,420.06 662.06,417.10 666.59,419.10 671.13,423.08 675.66,427.92 680.20,425.76 684.73,422.85 689.26,422.90 693.80,426.07 698.33,418.49 702.87,426.02 707.40,430.87 711.94,426.99 716.47,429.91 721.01,433.82 725.54,439.75 730.08,443.20 734.61,439.69" fill="none" stroke="#7e57c2" stroke-width="1"/>
</svg>
<div class="t lg" style="left:13.1px;top:28.35px;letter-spacing:-0.34px;">BTCUSDT · Bitcoin / Tether · 1W · KuCoin</div>
<div class="t lg" style="left:192px;top:28.35px;letter-spacing:-0.08px;">O<span class="gv">86,838.4</span></div>
<div class="t lg" style="left:242.9px;top:28.35px;letter-spacing:-0.29px;">H<span class="gv">91,935.3</span></div>
<div class="t lg" style="left:291.9px;top:28.35px;letter-spacing:-0.19px;">L<span class="gv">85,276.4</span></div>
<div class="t lg" style="left:340.5px;top:28.35px;letter-spacing:-0.42px;">C<span class="gv">91,446.1</span></div>
<div class="t lg gv" style="left:387.5px;top:28.35px;letter-spacing:-0.36px;">+4,607.7 (+5.31%)</div>
<div class="t lg" style="left:470.9px;top:28.35px;letter-spacing:-0.49px;">Vol<span class="gv">34.37 K</span></div>
<div class="t lg" style="left:13.9px;top:41.35px;letter-spacing:-0.51px;">Vol · BTC</div>
<div class="t lg gv" style="left:57.5px;top:41.35px;letter-spacing:-0.48px;">34.37 K</div>
<div class="t" style="left:12.9px;top:399.5px;font-size:9.6px;letter-spacing:-0.14px;">RSI (14, close)</div>
<div class="t" style="left:80.1px;top:399.5px;font-size:9.6px;color:#7e57c2;">39.83</div>
<div class="t" style="left:109.8px;top:399.5px;font-size:9.6px;letter-spacing:-0.4px;color:#f0cf52;">51.47</div>

<div style="position:absolute;left:959px;top:23.2px;width:54px;height:20.3px;background:#fff;border:1px solid #f5f6f8;box-sizing:border-box;"></div>
<div class="t ax" style="left:965.2px;top:28.4px;font-size:9.9px;transform:scaleX(0.9);transform-origin:0 0;">USDT</div>
<div class="t ax" style="left:963.3px;top:64.56px;letter-spacing:0.32px;">140,000.0</div>
<div class="t ax" style="left:963.3px;top:109.31px;letter-spacing:0.32px;">120,000.0</div>
<div class="t ax" style="left:963.3px;top:154.06px;letter-spacing:0.32px;">100,000.0</div>
<div class="t ax" style="left:963.3px;top:198.81px;letter-spacing:0.32px;">80,000.0</div>
<div class="t ax" style="left:963.3px;top:243.56px;letter-spacing:0.32px;">60,000.0</div>
<div class="t ax" style="left:963.3px;top:288.31px;letter-spacing:0.32px;">40,000.0</div>
<div class="t ax" style="left:963.3px;top:333.06px;letter-spacing:0.32px;">20,000.0</div>
<div class="t ax" style="left:963.3px;top:377.81px;letter-spacing:0.32px;">0.0</div>
<div class="t ax" style="left:962.3px;top:399.63px;letter-spacing:0.45px;">80.00</div>
<div class="t ax" style="left:962.3px;top:435.13px;letter-spacing:0.45px;">40.00</div>
<div style="position:absolute;left:957px;top:134.4px;width:55.5px;height:12.3px;background:#1848cc;border-radius:2px;"></div>
<div class="t ax" style="left:963.4px;top:135.8px;letter-spacing:0.19px;color:#fff;">108,311.7</div>
<div style="position:absolute;left:957px;top:172.6px;width:49.6px;height:12.1px;background:#2ba595;border-radius:2px;"></div>
<div class="t ax" style="left:962.5px;top:173.9px;letter-spacing:0.23px;color:#fff;">91,446.1</div>

<div class="t" style="left:37.75px;top:460.6px;font-size:10px;letter-spacing:0.63px;color:#131722;-webkit-text-stroke:0.5px #131722;">2023</div>
<div class="t" style="left:161.80px;top:460.6px;font-size:9.7px;color:#131722;-webkit-text-stroke:0;">Jul</div>
<div class="t" style="left:273.54px;top:460.6px;font-size:10px;letter-spacing:0.63px;color:#131722;-webkit-text-stroke:0.5px #131722;">2024</div>
<div class="t" style="left:397.59px;top:460.6px;font-size:9.7px;color:#131722;-webkit-text-stroke:0;">Jul</div>
<div class="t" style="left:513.87px;top:460.6px;font-size:10px;letter-spacing:0.63px;color:#131722;-webkit-text-stroke:0.5px #131722;">2025</div>
<div class="t" style="left:637.92px;top:460.6px;font-size:9.7px;color:#131722;-webkit-text-stroke:0;">Jul</div>
<div class="t" style="left:749.67px;top:460.6px;font-size:10px;letter-spacing:0.63px;color:#131722;-webkit-text-stroke:0.5px #131722;">2026</div>
<div class="t" style="left:873.71px;top:460.6px;font-size:9.7px;color:#131722;-webkit-text-stroke:0;">Jul</div>

<svg width="140" height="30" style="left:0;top:480px;" viewBox="0 480 140 30">
<path d="M9.1 492.2H17.7V503.5H13.6V496.75H9.1Z" fill="#000"/>
<circle cx="21.8" cy="494.6" r="2.05" fill="#000"/>
<path d="M26.8 492.2H31.4L26.8 503.5H22.3Z" fill="#000"/>
</svg>
<div class="t" style="left:36.7px;top:489.8px;font-size:16.5px;color:#000;letter-spacing:0px;-webkit-text-stroke:0.6px #000;">TradingView</div>
</body></html>
